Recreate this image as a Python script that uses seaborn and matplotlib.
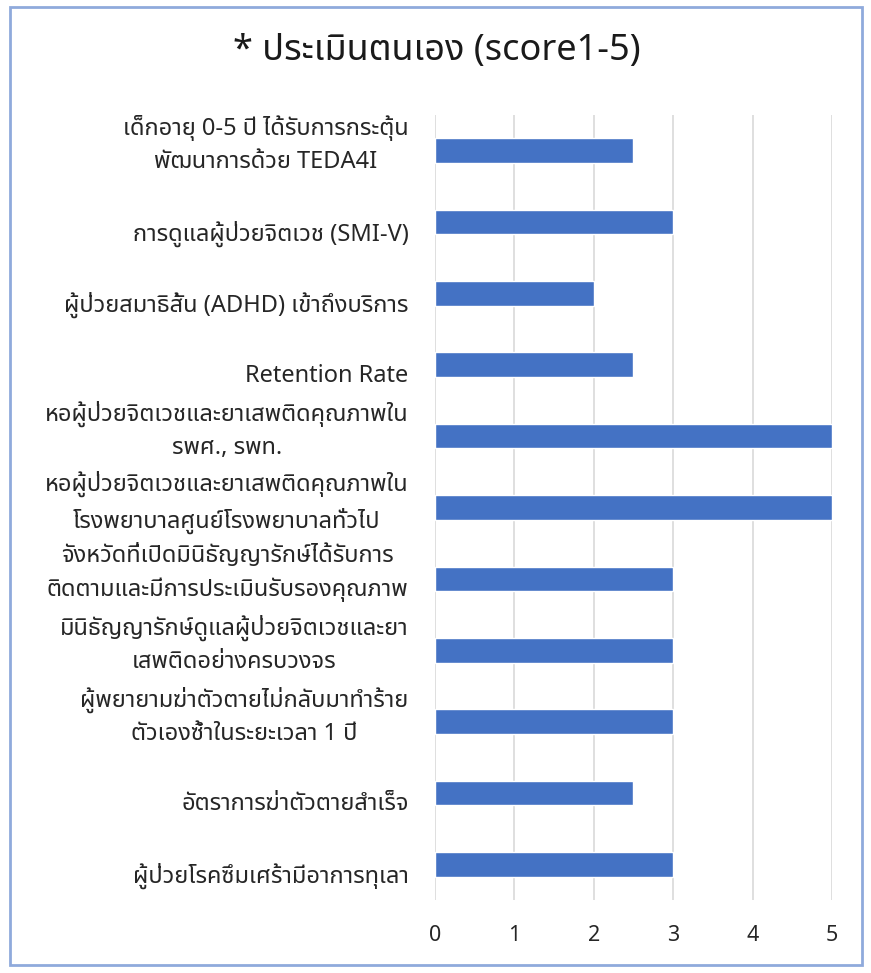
import matplotlib
matplotlib.use("Agg")
import matplotlib.pyplot as plt
import matplotlib.transforms as mtransforms
from matplotlib import font_manager
from matplotlib.ft2font import FT2Font
from matplotlib.patches import Rectangle
import seaborn as sns
import pandas as pd

# ---- data ----
categories = [
    "เด็กอายุ 0-5 ปี ได้รับการกระตุ้น\nพัฒนาการด้วย TEDA4I",
    "การดูแลผู้ป่วยจิตเวช (SMI-V)",
    "ผู้ป่วยสมาธิสั้น (ADHD) เข้าถึงบริการ",
    "Retention Rate",
    "หอผู้ป่วยจิตเวชและยาเสพติดคุณภาพใน\nรพศ., รพท.",
    "หอผู้ป่วยจิตเวชและยาเสพติดคุณภาพใน\nโรงพยาบาลศูนย์โรงพยาบาลทั่วไป",
    "จังหวัดที่เปิดมินิธัญญารักษ์ได้รับการ\nติดตามและมีการประเมินรับรองคุณภาพ",
    "มินิธัญญารักษ์ดูแลผู้ป่วยจิตเวชและยา\nเสพติดอย่างครบวงจร",
    "ผู้พยายามฆ่าตัวตายไม่กลับมาทำร้าย\nตัวเองซ้ำในระยะเวลา 1 ปี",
    "อัตราการฆ่าตัวตายสำเร็จ",
    "ผู้ป่วยโรคซึมเศร้ามีอาการทุเลา",
]
scores = [2.5, 3, 2, 2.5, 5, 5, 3, 3, 3, 2.5, 3]
x_ticks = [0, 1, 2, 3, 4, 5]
title = "* ประเมินตนเอง (score1-5)"

# ---- find a font with Thai glyphs (prefer loopless sans) ----
def find_thai_font():
    candidates = []
    for f in font_manager.fontManager.ttflist:
        try:
            cmap = FT2Font(f.fname).get_charmap()
        except Exception:
            continue
        if 0x0E01 in cmap and 0x0E34 in cmap:
            score = 0
            n = f.name.lower()
            if "noto sans thai" in n:
                score += 4
            elif "thai" in n:
                score += 2
            if "looped" in n:
                score -= 3
            if "ui" in n.split():
                score -= 1
            if f.weight in (400, "normal", "regular"):
                score += 1
            if f.style == "normal":
                score += 1
            candidates.append((score, f.name))
    if candidates:
        candidates.sort(reverse=True)
        return candidates[0][1]
    return None

sns.set_theme(style="white")
thai = find_thai_font()
families = ([thai] if thai else []) + ["DejaVu Sans"]
plt.rcParams["font.family"] = families

df = pd.DataFrame({"category": categories, "score": scores})

fig = plt.figure(figsize=(8.71, 9.73), dpi=100)
ax = fig.add_axes([0.4994, 0.075, 0.4558, 0.8068])

sns.barplot(data=df, y="category", x="score", orient="h", color="#4472C4",
            width=0.345, saturation=1, ax=ax, zorder=3)

ax.set_xlim(0, 5)
ax.set_xticks(x_ticks)
ax.set_xticklabels([str(t) for t in x_ticks], fontsize=15.5, color="#262626")
ax.xaxis.grid(True, color="#D9D9D9", linewidth=1.2, zorder=0)
ax.yaxis.grid(False)
for s in ax.spines.values():
    s.set_visible(False)
ax.set_xlabel("")
ax.set_ylabel("")
ax.tick_params(axis="x", length=0, pad=18)
ax.tick_params(axis="y", length=0, pad=19)

for lab in ax.get_yticklabels():
    txt = lab.get_text()
    lab.set_fontsize(17)
    lab.set_color("#262626")
    lab.set_multialignment("center")
    lab.set_linespacing(1.5)
    dy = 9.5 / 72 if "\n" in txt else -6 / 72
    lab.set_transform(lab.get_transform() + mtransforms.ScaledTranslation(0, dy, fig.dpi_scale_trans))

fig.text(0.502, 0.948, title, ha="center", va="center", fontsize=26, color="#1a1a1a")

# outer frame
fig.patches.append(Rectangle((0.012, 0.008), 0.978, 0.985, transform=fig.transFigure,
                             fill=False, edgecolor="#8FAADC", linewidth=2))

fig.savefig("out.png", dpi=100)
